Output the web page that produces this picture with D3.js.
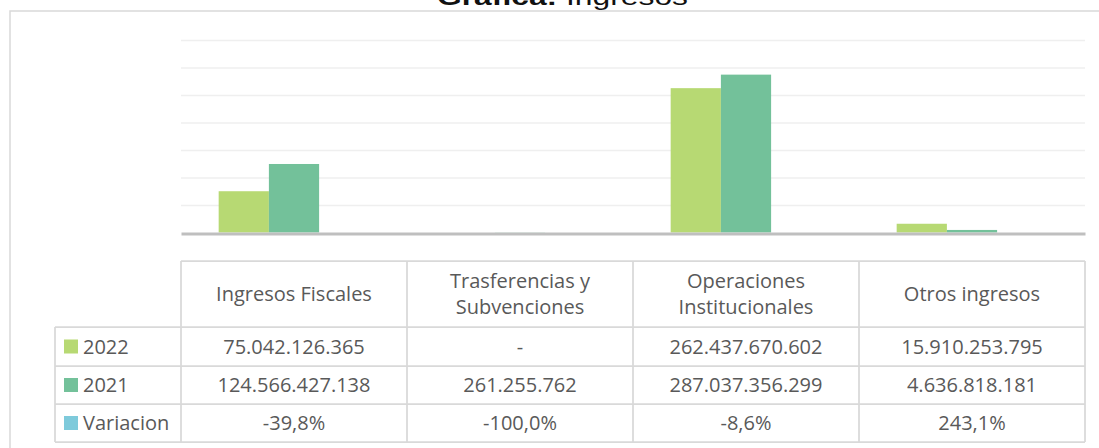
<!DOCTYPE html>
<html>
<head>
<meta charset="utf-8">
<script src="https://cdn.jsdelivr.net/npm/d3@7"></script>
<style>
  html, body { margin: 0; padding: 0; background: #fff; }
  svg { display: block; }
</style>
</head>
<body>
<svg id="chart" width="1099" height="448"></svg>
<script>
// data
const categories = ["Ingresos Fiscales", "Trasferencias y Subvenciones", "Operaciones Institucionales", "Otros ingresos"];
const headerLines = [["Ingresos Fiscales"], ["Trasferencias y", "Subvenciones"], ["Operaciones", "Institucionales"], ["Otros ingresos"]];
const seriesNames = ["2022", "2021", "Variacion"];
const values2022 = [75042126365, 0, 262437670602, 15910253795];
const values2021 = [124566427138, 261255762, 287037356299, 4636818181];
const variacion = [-0.398, -1.0, -0.086, 2.431];
const yTicks = [0, 50e9, 100e9, 150e9, 200e9, 250e9, 300e9, 350e9];
const colors = ["#b7d973", "#73c19a", "#7ecadb"];

const seriesValues = [values2022, values2021, variacion];

const locale = d3.formatLocale({ decimal: ",", thousands: ".", grouping: [3], currency: ["", ""], minus: "-" });
const fmtNum = locale.format(",.0f");
const fmtPct = locale.format(".1%");

const svg = d3.select("#chart");

// frame
svg.append("rect")
  .attr("x", 10).attr("y", 11)
  .attr("width", 1100).attr("height", 450)
  .attr("fill", "none")
  .attr("stroke", "#d9d9d9")
  .attr("stroke-width", 1.5);

// title (cut at the top like the original)
const title = svg.append("text")
  .attr("x", 437).attr("y", 5)
  .attr("textLength", 251)
  .attr("lengthAdjust", "spacingAndGlyphs")
  .attr("font-family", "Liberation Sans, Arial, sans-serif")
  .attr("font-size", 24)
  .attr("fill", "#111");
title.append("tspan").attr("font-weight", "bold").text("Gráfica:");
title.append("tspan").text(" Ingresos");

// scales
const plotLeft = 181, plotRight = 1085;
const x0 = d3.scaleBand().domain(categories).range([plotLeft, plotRight]);
const groupW = x0.bandwidth() / 1.5;
const x1 = d3.scaleBand().domain(seriesNames).range([0, groupW]);
const y = d3.scaleLinear().domain([0, 350e9]).range([232.5, 40]);

// gridlines
const grid = svg.append("g")
  .attr("transform", `translate(${plotLeft},0)`)
  .call(d3.axisLeft(y).tickValues(yTicks.slice(1)).tickSize(-(plotRight - plotLeft)).tickFormat(""));
grid.select(".domain").remove();
grid.selectAll(".tick line").attr("stroke", "#efefef").attr("stroke-width", 1.5);

// bars
const groups = svg.append("g").selectAll("g")
  .data(categories)
  .join("g")
  .attr("transform", d => `translate(${x0(d) + (x0.bandwidth() - groupW) / 2},0)`);

groups.selectAll("rect")
  .data((d, i) => seriesNames.map((s, k) => ({ s, k, v: seriesValues[k][i] })))
  .join("rect")
  .attr("x", d => x1(d.s))
  .attr("width", x1.bandwidth())
  .attr("y", d => Math.min(y(d.v), y(0)))
  .attr("height", d => Math.abs(y(0) - y(d.v)))
  .attr("fill", d => colors[d.k]);

// baseline axis
const xAxis = svg.append("g")
  .attr("transform", `translate(0,${y(0) + 1})`)
  .call(d3.axisBottom(x0).tickSize(0).tickFormat(""));
xAxis.select(".domain").attr("stroke", "#bfbfbf").attr("stroke-width", 3);

// data table
const tableTop = 261, headerBottom = 327;
const rowLines = [327, 366, 404, 442];
const legendLeft = 55;
const lineColor = "#d9d9d9";
const textColor = "#595959";
const font = "Open Sans, Noto Sans, sans-serif";
const fontSize = 20;

const table = svg.append("g");

// horizontal lines
table.append("line")
  .attr("x1", plotLeft).attr("x2", plotRight)
  .attr("y1", tableTop).attr("y2", tableTop);
rowLines.forEach(ry => {
  table.append("line")
    .attr("x1", legendLeft).attr("x2", plotRight)
    .attr("y1", ry).attr("y2", ry);
});
// vertical lines
table.append("line").attr("x1", legendLeft).attr("x2", legendLeft).attr("y1", headerBottom).attr("y2", 442);
categories.forEach(c => {
  table.append("line").attr("x1", x0(c)).attr("x2", x0(c)).attr("y1", tableTop).attr("y2", 442);
});
table.append("line").attr("x1", plotRight).attr("x2", plotRight).attr("y1", tableTop).attr("y2", 442);
table.selectAll("line").attr("stroke", lineColor).attr("stroke-width", 1.75);

// header text
const headerMid = (tableTop + headerBottom) / 2;
categories.forEach((c, i) => {
  const lines = headerLines[i];
  const t = table.append("text")
    .attr("text-anchor", "middle")
    .attr("font-family", font)
    .attr("font-size", fontSize)
    .attr("fill", textColor);
  lines.forEach((ln, j) => {
    t.append("tspan")
      .attr("x", x0(c) + x0.bandwidth() / 2)
      .attr("y", headerMid + 7 + (j - (lines.length - 1) / 2) * 26)
      .text(ln);
  });
});

// rows
seriesNames.forEach((s, k) => {
  const top = rowLines[k], bottom = rowLines[k + 1];
  const mid = (top + bottom) / 2;
  table.append("rect")
    .attr("x", 64).attr("y", mid - 7)
    .attr("width", 14).attr("height", 14)
    .attr("fill", colors[k]);
  table.append("text")
    .attr("x", 83).attr("y", mid + 7)
    .attr("font-family", font)
    .attr("font-size", fontSize)
    .attr("fill", textColor)
    .text(s);
  categories.forEach((c, i) => {
    const v = seriesValues[k][i];
    let label;
    if (k === 2) label = fmtPct(v);
    else label = v === 0 ? "-" : fmtNum(v);
    table.append("text")
      .attr("x", x0(c) + x0.bandwidth() / 2)
      .attr("y", mid + 7)
      .attr("text-anchor", "middle")
      .attr("font-family", font)
      .attr("font-size", fontSize)
      .attr("fill", textColor)
      .text(label);
  });
});
</script>
</body>
</html>
